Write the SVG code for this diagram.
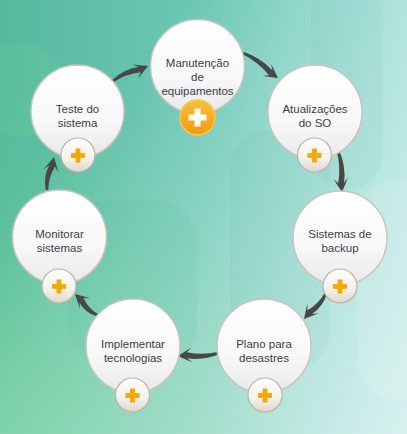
<svg xmlns="http://www.w3.org/2000/svg" width="407" height="434" viewBox="0 0 407 434">
<defs>
<linearGradient id="bgH" x1="0" y1="0" x2="1" y2="0">
<stop offset="0" stop-color="#55b99d"/>
<stop offset="0.5" stop-color="#6cc8b5"/>
<stop offset="1" stop-color="#9bdcd6"/>
</linearGradient>
<linearGradient id="bgW" x1="0.2" y1="0.3" x2="1" y2="1">
<stop offset="0" stop-color="#ffffff" stop-opacity="0"/>
<stop offset="1" stop-color="#ffffff" stop-opacity="0.6"/>
</linearGradient>
<radialGradient id="bgG" cx="0" cy="1" r="0.8">
<stop offset="0" stop-color="#6fd696" stop-opacity="0.6"/>
<stop offset="1" stop-color="#6fd696" stop-opacity="0"/>
</radialGradient>
<linearGradient id="nodeFill" x1="0" y1="0" x2="0" y2="1">
<stop offset="0" stop-color="#ffffff"/>
<stop offset="0.6" stop-color="#f8f8f8"/>
<stop offset="1" stop-color="#e8e8e8"/>
</linearGradient>
<linearGradient id="btnFill" x1="0" y1="0" x2="0" y2="1">
<stop offset="0" stop-color="#fefefc"/>
<stop offset="0.6" stop-color="#f3f1ec"/>
<stop offset="1" stop-color="#ddd8cc"/>
</linearGradient>
<linearGradient id="orangeFill" x1="0" y1="0" x2="0" y2="1">
<stop offset="0" stop-color="#fbbf38"/>
<stop offset="1" stop-color="#f29a12"/>
</linearGradient>
<g id="plusO">
<rect x="-7" y="-2.4" width="14" height="4.8" fill="#f6a800"/>
<rect x="-2.4" y="-7" width="4.8" height="14" fill="#f6a800"/>
</g>
</defs>
<style>
.node{fill:url(#nodeFill);stroke:#c8c4bc;stroke-width:1.5}
.btn{fill:url(#btnFill);stroke:#bcb5a6;stroke-width:1.2}
.lbl{font-family:"Liberation Sans",Arial,sans-serif;font-size:11.5px;fill:#3c3c46;text-anchor:middle}
.arr{fill:#474747}
.pill{fill:#2f9e8e;opacity:0.05}
.pillL{fill:#ffffff;opacity:0.12}
</style>
<g id="background">
<rect x="0" y="0" width="407" height="434" fill="url(#bgH)"/>
<rect x="0" y="0" width="407" height="434" fill="url(#bgG)"/>
<rect x="0" y="0" width="407" height="434" fill="url(#bgW)"/>
<rect class="pill" x="311" y="-40" width="72" height="230" rx="36"/>
<rect class="pill" x="230" y="130" width="100" height="240" rx="40"/>
<rect class="pill" x="67" y="200" width="130" height="165" rx="40"/>
<rect class="pillL" x="357" y="180" width="90" height="220" rx="40"/>
<circle cx="20" cy="90" r="47" fill="#6fd09a" opacity="0.2"/>
</g>
<g id="connectors">
<path class="arr" transform="translate(113,81) rotate(-23.2)" d="M0,-1.3 Q14.55,-6.5 29.1,-3 L24.1,-7.5 L38.1,0 L24.1,7.5 L29.1,3 Q14.55,-1.5 0,1.3Z"/>
<path class="arr" transform="translate(243,53) rotate(35.5)" d="M0,-1.3 Q17,-6.5 34,-3 L29,-7.5 L43,0 L29,7.5 L34,3 Q17,-1.5 0,1.3Z"/>
<path class="arr" transform="translate(338,151) rotate(84.4)" d="M0,-1.3 Q16.1,-6.5 32.2,-3 L27.2,-7.5 L41.2,0 L27.2,7.5 L32.2,3 Q16.1,-1.5 0,1.3Z"/>
<path class="arr" transform="translate(326,293) rotate(130.2)" d="M0,-1.3 Q12.5,-6.5 25.06,-3 L20.06,-7.5 L34.06,0 L20.06,7.5 L25.06,3 Q12.5,-1.5 0,1.3Z"/>
<path class="arr" transform="translate(219,353) rotate(175.8)" d="M0,-1.3 Q16.05,-6.5 32.1,-3 L27.1,-7.5 L41.1,0 L27.1,7.5 L32.1,3 Q16.05,-1.5 0,1.3Z"/>
<path class="arr" transform="translate(97,315) rotate(-136.3)" d="M0,-1.3 Q10.7,-6.5 21.4,-3 L16.4,-7.5 L30.4,0 L16.4,7.5 L21.4,3 Q10.7,-1.5 0,1.3Z"/>
<path class="arr" transform="translate(47,190) rotate(-78)" d="M0,-1.3 Q12.35,-6.5 24.7,-3 L19.7,-7.5 L33.7,0 L19.7,7.5 L24.7,3 Q12.35,-1.5 0,1.3Z"/>
</g>
<g id="node-manutencao">
<circle class="node" cx="197.5" cy="66.5" r="47"/>
<text class="lbl" x="197.5" y="67">Manutenção</text>
<text class="lbl" x="197.5" y="81">de</text>
<text class="lbl" x="197.5" y="95">equipamentos</text>
<circle cx="197.5" cy="117.5" r="17.5" fill="url(#orangeFill)" stroke="#f7c64a" stroke-width="1.5"/>
<rect x="188.5" y="114.5" width="18" height="6" fill="#ffffff"/>
<rect x="194.5" y="108.5" width="6" height="18" fill="#ffffff"/>
</g>
<g id="node-atualizacoes">
<circle class="node" cx="315" cy="112" r="47"/>
<text class="lbl" x="315" y="113">Atualizações</text>
<text class="lbl" x="315" y="127">do SO</text>
<circle class="btn" cx="314.5" cy="155" r="17"/>
<use href="#plusO" x="314.5" y="155.5"/>
</g>
<g id="node-sistemas-backup">
<circle class="node" cx="340" cy="238" r="47"/>
<text class="lbl" x="340" y="238">Sistemas de</text>
<text class="lbl" x="340" y="252">backup</text>
<circle class="btn" cx="340" cy="286" r="17"/>
<use href="#plusO" x="340" y="286.5"/>
</g>
<g id="node-plano">
<circle class="node" cx="264" cy="346" r="47"/>
<text class="lbl" x="264" y="347.5">Plano para</text>
<text class="lbl" x="264" y="361.5">desastres</text>
<circle class="btn" cx="265" cy="395" r="17"/>
<use href="#plusO" x="265" y="395.5"/>
</g>
<g id="node-implementar">
<circle class="node" cx="133" cy="346" r="47"/>
<text class="lbl" x="133" y="347.5">Implementar</text>
<text class="lbl" x="133" y="361.5">tecnologias</text>
<circle class="btn" cx="132.5" cy="395" r="17"/>
<use href="#plusO" x="132.5" y="395.5"/>
</g>
<g id="node-monitorar">
<circle class="node" cx="59.5" cy="237" r="47"/>
<text class="lbl" x="59.5" y="238">Monitorar</text>
<text class="lbl" x="59.5" y="252">sistemas</text>
<circle class="btn" cx="59" cy="286" r="17"/>
<use href="#plusO" x="59" y="286.5"/>
</g>
<g id="node-teste">
<circle class="node" cx="77.5" cy="111.5" r="46.5"/>
<text class="lbl" x="77.5" y="113">Teste do</text>
<text class="lbl" x="77.5" y="127">sistema</text>
<circle class="btn" cx="78" cy="155" r="17"/>
<use href="#plusO" x="78" y="155.5"/>
</g>
</svg>
